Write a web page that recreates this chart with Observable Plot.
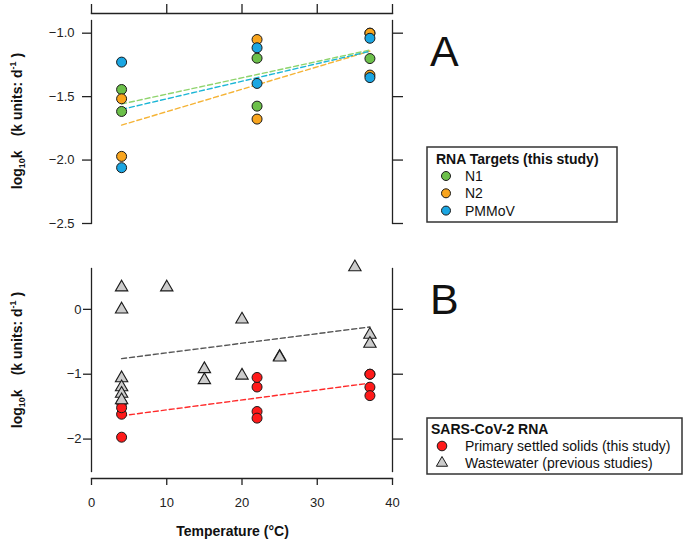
<!DOCTYPE html>
<html>
<head>
<meta charset="utf-8">
<script src="https://cdn.jsdelivr.net/npm/d3@7"></script>
<script src="https://cdn.jsdelivr.net/npm/@observablehq/plot@0.6"></script>
<style>
  body { margin: 0; background: #fff; }
  #wrap { position: relative; width: 687px; height: 545px; overflow: hidden; background: #fff; }
  .panel { position: absolute; left: 0; }
</style>
</head>
<body>
<div id="wrap">
  <div class="panel" id="pa" style="top:0px"></div>
  <div class="panel" id="pb" style="top:250px"></div>
</div>
<script>
// ---------- data ----------
const xTicks = [0, 10, 20, 30, 40];
const yTicksA = [-2.5, -2.0, -1.5, -1.0];
const yTicksB = [-2, -1, 0];

const targetTemps = [4, 4, 22, 22, 37, 37];
const n1K    = [-1.444, -1.617, -1.197, -1.575, -1.0, -1.2];
const n2K    = [-1.517, -1.971, -1.05, -1.677, -1.0, -1.33];
const pmmovK = [-1.228, -2.06, -1.115, -1.396, -1.04, -1.35];

const wwTemps = [4, 4, 4, 4, 4, 4, 10, 15, 15, 20, 20, 25, 25, 35, 37, 37];
const wwK     = [0.34, 0.0, -1.06, -1.2, -1.3, -1.4, 0.34, -0.92, -1.09, -0.155, -1.02, -0.73, -0.74, 0.65, -0.39, -0.53];

const targetNames = ["N1", "N2", "PMMoV"];
const targetFill  = ["#6cc04a", "#f9a51e", "#1ba6e2"];
const targetLine  = ["#8fd46d", "#f5b335", "#1bb6d6"];
const solidsFill = "#ff1a1a", solidsLine = "#ff2a2a";
const wwFill = "#cccccc", wwLine = "#555555";

const legendTitleA = "RNA Targets (this study)";
const legendTitleB = "SARS-CoV-2 RNA";
const legendLabelsB = ["Primary settled solids (this study)", "Wastewater (previous studies)"];

// ---------- tables ----------
const rows = (xs, ys) => xs.map((t, i) => ({t, k: ys[i]}));
const targets = [rows(targetTemps, n1K), rows(targetTemps, n2K), rows(targetTemps, pmmovK)];
const solids = [...targets[0], ...targets[1]];
const ww = rows(wwTemps, wwK);

const FONT = "'Liberation Sans', Arial, Helvetica, sans-serif";
const AX = "#222";
const style = {fontFamily: FONT, fontSize: "13px", color: AX, background: "transparent", overflow: "visible"};
const dash = "5,3";

// ---------- panel A ----------
const plotA = Plot.plot({
  width: 420, height: 250,
  marginLeft: 91, marginRight: 28, marginTop: 20, marginBottom: 27,
  style,
  x: {domain: [0, 40]},
  y: {domain: [-2.5, -0.9]},
  marks: [
    Plot.frame({anchor: "left", stroke: AX, strokeWidth: 1.3}),
    Plot.frame({anchor: "right", stroke: AX, strokeWidth: 1.3}),
    Plot.frame({anchor: "top", stroke: AX, strokeWidth: 1.3, dy: -7}),
    Plot.axisY({anchor: "left", ticks: yTicksA, tickSize: 9, tickPadding: 8, tickFormat: d3.format(".1f"), label: null, strokeWidth: 1.3}),
    Plot.axisY({anchor: "right", ticks: yTicksA, tickSize: 10, tickFormat: () => "", label: null, strokeWidth: 1.3}),
    Plot.axisX({anchor: "top", ticks: xTicks, tickSize: 10, tickFormat: () => "", label: null, strokeWidth: 1.3, dy: -7}),
    ...targets.map((d, i) => Plot.linearRegressionY(d, {x: "t", y: "k", stroke: targetLine[i], strokeWidth: 1.4, strokeDasharray: dash, ci: 0})),
    ...targets.map((d, i) => Plot.dot(d, {x: "t", y: "k", r: 5, fill: targetFill[i], stroke: "#1a1a1a", strokeWidth: 1})),
  ]
});
document.getElementById("pa").appendChild(plotA);

// ---------- panel B ----------
const plotB = Plot.plot({
  width: 420, height: 295,
  marginLeft: 91, marginRight: 28, marginTop: 18, marginBottom: 74,
  style,
  x: {domain: [0, 40]},
  y: {domain: [-2.5, 0.63]},
  marks: [
    Plot.frame({anchor: "left", stroke: AX, strokeWidth: 1.3}),
    Plot.frame({anchor: "right", stroke: AX, strokeWidth: 1.3}),
    Plot.frame({anchor: "bottom", stroke: AX, strokeWidth: 1.3, dy: 7}),
    Plot.axisY({anchor: "left", ticks: yTicksB, tickSize: 8, tickPadding: 2, tickFormat: d3.format("d"), label: null, strokeWidth: 1.3}),
    Plot.axisY({anchor: "right", ticks: yTicksB, tickSize: 10, tickFormat: () => "", label: null, strokeWidth: 1.3}),
    Plot.axisX({anchor: "bottom", ticks: xTicks, tickSize: 7, tickPadding: 12, tickFormat: d3.format("d"), label: null, strokeWidth: 1.3, dy: 7}),
    Plot.linearRegressionY(ww, {x: "t", y: "k", stroke: wwLine, strokeWidth: 1.4, strokeDasharray: dash, ci: 0}),
    Plot.linearRegressionY(solids, {x: "t", y: "k", stroke: solidsLine, strokeWidth: 1.4, strokeDasharray: dash, ci: 0}),
    Plot.dot(solids, {x: "t", y: "k", r: 5, fill: solidsFill, stroke: "#1a1a1a", strokeWidth: 1}),
    Plot.dot(ww, {x: "t", y: "k", r: 4.6, symbol: "triangle", fill: wwFill, stroke: "#1a1a1a", strokeWidth: 1.1}),
  ]
});
document.getElementById("pb").appendChild(plotB);

// ---------- overlay text & legends ----------
const ov = d3.select("#wrap").append("svg")
  .attr("width", 687).attr("height", 545)
  .style("position", "absolute").style("left", 0).style("top", 0)
  .style("pointer-events", "none").style("font-family", FONT);

function yLabel(cy) {
  const t = ov.append("text")
    .attr("transform", `translate(21.5,${cy}) rotate(-90)`)
    .attr("text-anchor", "middle").attr("font-weight", "bold")
    .attr("font-size", 14).attr("fill", "#111");
  t.append("tspan").text("log");
  t.append("tspan").attr("font-size", 9).attr("dy", 3).text("10");
  t.append("tspan").attr("dy", -3).text("k");
  t.append("tspan").attr("dx", 14).text("(k units: d");
  t.append("tspan").attr("font-size", 9).attr("dy", -6).text("-1");
  t.append("tspan").attr("dy", 6).text(" )");
}
yLabel(121);
yLabel(360);

ov.append("text").attr("x", 232.5).attr("y", 536).attr("text-anchor", "middle")
  .attr("font-weight", "bold").attr("font-size", 14).attr("fill", "#111").text("Temperature (°C)");

ov.append("text").attr("x", 430).attr("y", 66).attr("font-size", 43).attr("fill", "#111").text("A");
ov.append("text").attr("x", 430).attr("y", 314).attr("font-size", 43).attr("fill", "#111").text("B");

// legend A
ov.append("rect").attr("x", 427).attr("y", 147).attr("width", 190).attr("height", 75)
  .attr("fill", "#fff").attr("stroke", "#333").attr("stroke-width", 1.5);
ov.append("text").attr("x", 436).attr("y", 164).attr("font-size", 14).attr("font-weight", "bold").attr("fill", "#111").text(legendTitleA);
targetNames.forEach((name, i) => {
  const cy = 176 + i * 17.3;
  ov.append("circle").attr("cx", 446).attr("cy", cy).attr("r", 4.5)
    .attr("fill", targetFill[i]).attr("stroke", "#1a1a1a").attr("stroke-width", 1);
  ov.append("text").attr("x", 465).attr("y", cy + 5).attr("font-size", 14).attr("fill", "#111").text(name);
});

// legend B
ov.append("rect").attr("x", 427).attr("y", 418).attr("width", 255).attr("height", 56)
  .attr("fill", "#fff").attr("stroke", "#333").attr("stroke-width", 1.5);
ov.append("text").attr("x", 431).attr("y", 434).attr("font-size", 14).attr("font-weight", "bold").attr("fill", "#111").text(legendTitleB);
ov.append("circle").attr("cx", 442).attr("cy", 446).attr("r", 4.8)
  .attr("fill", solidsFill).attr("stroke", "#1a1a1a").attr("stroke-width", 1);
ov.append("path").attr("transform", "translate(442,463)")
  .attr("d", d3.symbol(d3.symbolTriangle, 55)())
  .attr("fill", wwFill).attr("stroke", "#1a1a1a").attr("stroke-width", 1);
legendLabelsB.forEach((lab, i) => {
  ov.append("text").attr("x", 465).attr("y", 446 + i * 17.3 + 5).attr("font-size", 14).attr("fill", "#111").text(lab);
});
</script>
</body>
</html>
